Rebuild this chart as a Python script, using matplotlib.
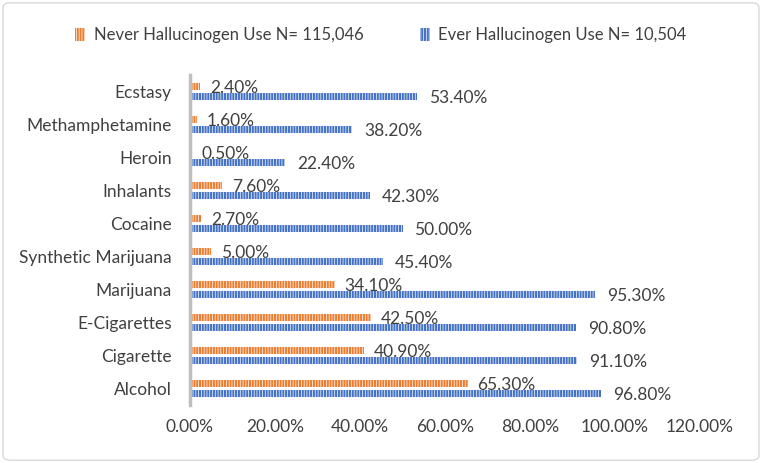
import matplotlib
matplotlib.use("Agg")
import matplotlib.pyplot as plt
import numpy as np
from matplotlib.patches import FancyBboxPatch

# data (bottom to top)
categories = ["Alcohol", "Cigarette", "E-Cigarettes", "Marijuana", "Synthetic Marijuana",
              "Cocaine", "Inhalants", "Heroin", "Methamphetamine", "Ecstasy"]
never_vals = [65.3, 40.9, 42.5, 34.1, 5.0, 2.7, 7.6, 0.5, 1.6, 2.4]
ever_vals = [96.8, 91.1, 90.8, 95.3, 45.4, 50.0, 42.3, 22.4, 38.2, 53.4]
never_label = "Never Hallucinogen Use N= 115,046"
ever_label = "Ever Hallucinogen Use N= 10,504"
xticks = [0, 20, 40, 60, 80, 100, 120]

ORANGE = "#ED7D31"
BLUE = "#4472C4"
TXT = "#404040"
FS = 12.5

plt.rcParams["font.family"] = ["Lato", "DejaVu Sans"]
plt.rcParams["hatch.linewidth"] = 0.5

fig = plt.figure(figsize=(7.62, 4.63), dpi=100)
ax = fig.add_axes([190 / 762, 1 - 405 / 463, 510 / 762, 330 / 463])

y = np.arange(len(categories))
h = 0.21
off = 0.15
b1 = ax.barh(y + off, never_vals, height=h, color=ORANGE, edgecolor="white",
             hatch="||||||", linewidth=0, label=never_label)
b2 = ax.barh(y - off, ever_vals, height=h, color=BLUE, edgecolor="white",
             hatch="||||||", linewidth=0, label=ever_label)

for yy, v in zip(y + off, never_vals):
    ax.text(v + 2.3, yy - 0.04, f"{v:.2f}%", va="center", ha="left", fontsize=FS, color=TXT)
for yy, v in zip(y - off, ever_vals):
    ax.text(v + 2.8, yy - 0.06, f"{v:.2f}%", va="center", ha="left", fontsize=FS, color=TXT)

ax.set_xlim(0, 120)
ax.set_ylim(-0.5, len(categories) - 0.5)
ax.set_xticks(xticks)
ax.set_xticklabels([f"{t:.2f}%" for t in xticks], fontsize=FS, color=TXT)
ax.set_yticks(y)
ax.set_yticklabels(categories, fontsize=FS, color=TXT)
ax.tick_params(length=0)
ax.tick_params(axis="y", pad=13)
ax.tick_params(axis="x", pad=10)
for s in ["top", "right", "bottom"]:
    ax.spines[s].set_visible(False)
ax.spines["left"].set_color("#BFBFBF")
ax.spines["left"].set_linewidth(2.5)

leg = fig.legend(handles=[b1, b2], loc="center", bbox_to_anchor=(0.5, 1 - 35 / 463),
                 ncol=2, frameon=False, fontsize=12, handlelength=0.6, handleheight=0.8,
                 columnspacing=3.4, handletextpad=0.5)
for t in leg.get_texts():
    t.set_color(TXT)

border = FancyBboxPatch((0.004, 0.006), 0.992, 0.988, boxstyle="round,pad=0,rounding_size=0.01",
                        transform=fig.transFigure, fill=False, edgecolor="#D9D9D9", linewidth=1)
fig.patches.append(border)

fig.savefig("out.png", dpi=100, facecolor="white")
